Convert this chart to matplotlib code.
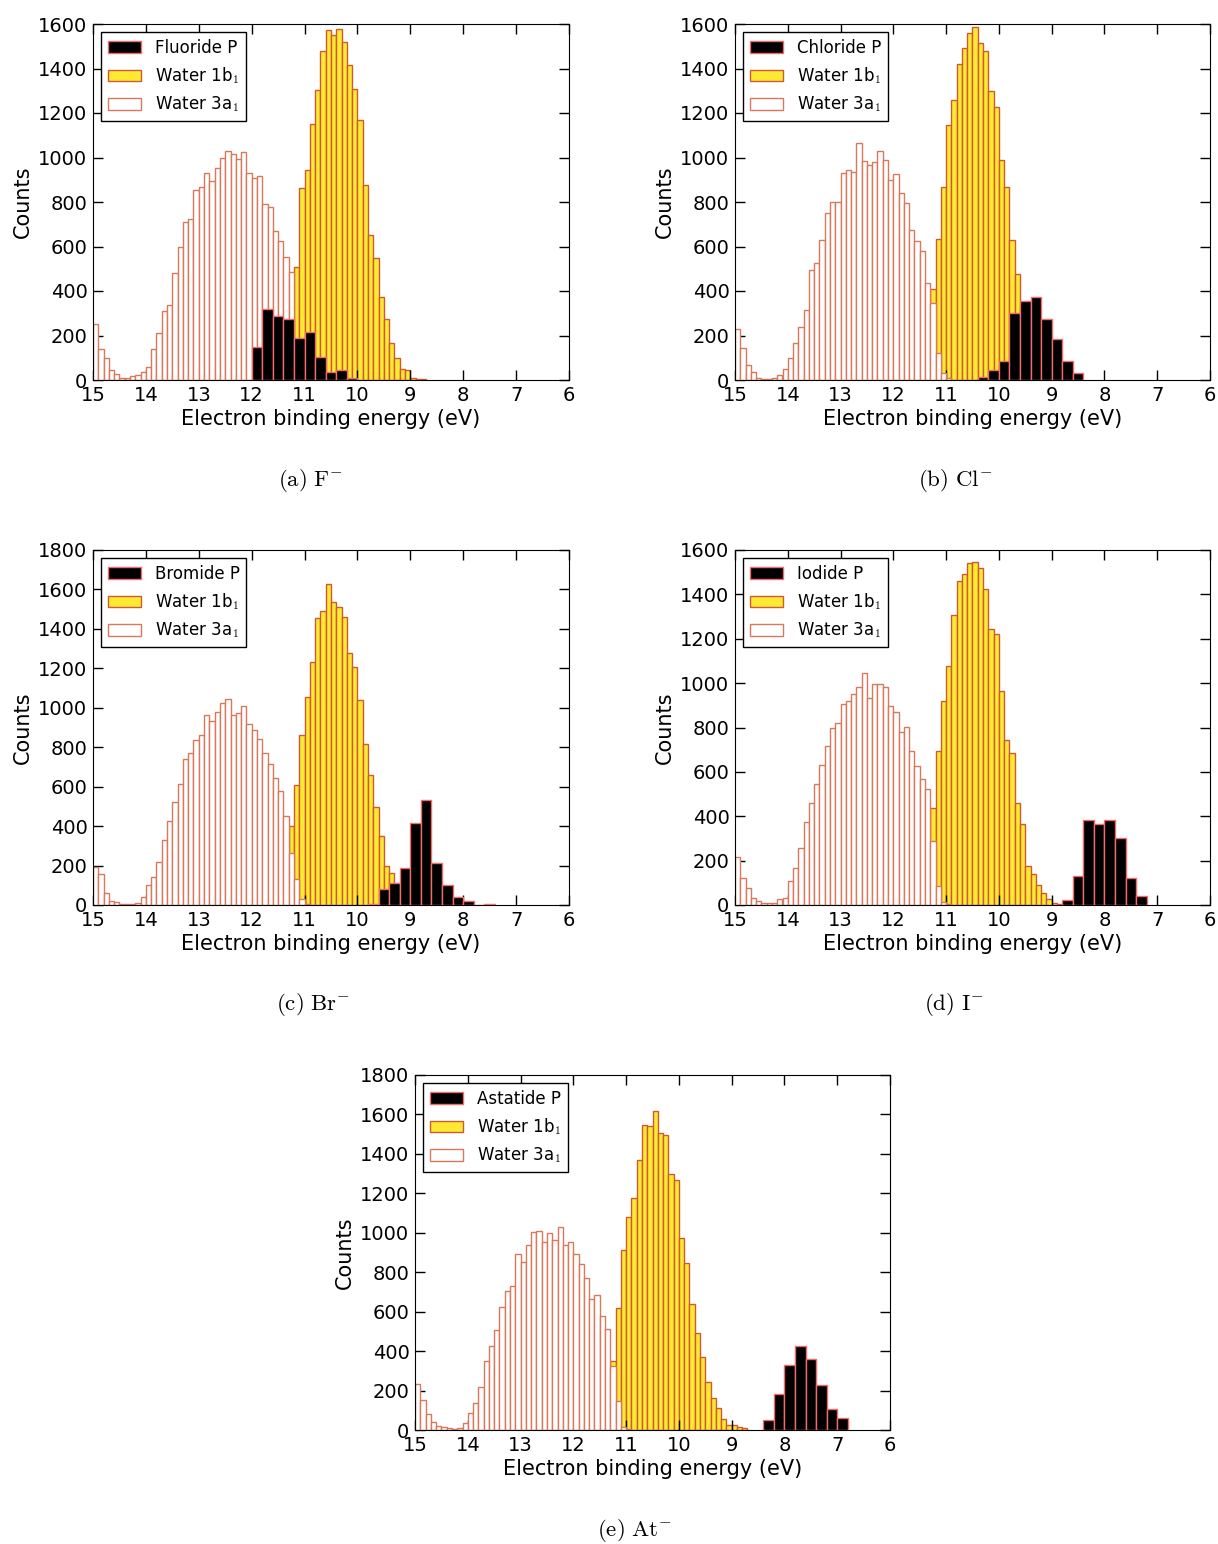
import numpy as np
import matplotlib
matplotlib.use("Agg")
import matplotlib.pyplot as plt
from matplotlib.patches import Patch

plt.rcParams['font.family'] = ['DejaVu Sans']
plt.rcParams['mathtext.fontset'] = 'cm'
plt.rcParams['xtick.direction'] = 'in'
plt.rcParams['ytick.direction'] = 'in'
plt.rcParams['xtick.top'] = True
plt.rcParams['ytick.right'] = True

# bin width of the water histograms and of the anion histogram (eV)
water_bin = 0.1
anion_bin = 0.2

# Water 3a1 counts, bins from 15.0 eV downwards
w3a1_start = 15.0
w3a1_F = [250, 138, 97, 45, 25, 10, 7, 18, 22, 37,
          57, 138, 210, 310, 337, 482, 596, 710, 725, 852,
          866, 932, 894, 953, 999, 1028, 1014, 993, 1023, 932,
          906, 918, 791, 776, 671, 626, 554, 487, 110, 25, 6]
w3a1_Cl = [228, 142, 67, 37, 10, 4, 4, 7, 22, 48,
           100, 168, 240, 315, 494, 524, 629, 752, 801, 801,
           932, 944, 933, 1064, 984, 966, 978, 1031, 989, 899,
           924, 839, 797, 674, 626, 581, 434, 348, 120, 30, 8]
w3a1_Br = [194, 155, 59, 22, 17, 5, 5, 3, 8, 42,
           101, 140, 219, 329, 425, 522, 615, 738, 772, 838,
           860, 964, 934, 981, 1025, 1042, 964, 973, 1011, 919,
           885, 843, 772, 715, 644, 578, 450, 263, 131, 30, 5]
w3a1_I = [217, 120, 75, 30, 19, 7, 7, 10, 25, 33,
          108, 168, 255, 375, 460, 547, 632, 715, 800, 819,
          906, 921, 950, 984, 1046, 933, 996, 996, 984, 896,
          872, 779, 803, 692, 626, 569, 521, 288, 87, 15, 5]
w3a1_At = [234, 152, 81, 42, 20, 13, 10, 7, 12, 37,
           88, 138, 217, 352, 428, 508, 626, 705, 731, 892,
           850, 936, 1003, 1010, 955, 997, 961, 1030, 936, 955,
           892, 840, 769, 663, 684, 579, 512, 327, 146, 15, 5]

# Water 1b1 counts, bins from 11.6 eV downwards
w1b1_start = 11.6
w1b1_F = [20, 60, 150, 330, 509, 863, 944, 1152, 1303, 1480,
          1573, 1552, 1578, 1518, 1416, 1308, 1169, 876, 652, 547,
          375, 273, 168, 97, 48, 45, 7, 6, 3]
w1b1_Cl = [20, 60, 150, 408, 632, 869, 1145, 1258, 1420, 1491,
           1558, 1588, 1513, 1480, 1299, 1228, 989, 866, 629, 475,
           330, 220, 140, 80, 45, 20, 10, 4]
w1b1_Br = [20, 60, 150, 400, 610, 863, 1057, 1234, 1455, 1492,
           1630, 1534, 1512, 1458, 1276, 1208, 1037, 814, 661, 497,
           349, 197, 160, 90, 45, 20, 8, 4]
w1b1_I = [20, 60, 150, 437, 692, 921, 1076, 1308, 1461, 1491,
          1540, 1548, 1518, 1423, 1243, 1221, 966, 742, 686, 460,
          367, 177, 138, 90, 55, 25, 7, 3]
w1b1_At = [20, 60, 150, 348, 618, 912, 1081, 1177, 1370, 1544,
           1542, 1616, 1505, 1495, 1296, 1266, 971, 845, 640, 492,
           369, 244, 163, 113, 57, 24, 24, 17, 8]

# anion P-band counts (0.2 eV bins) and the upper edge of the first bin
anion_F, anion_F_start = [150, 321, 288, 274, 187, 214, 103, 34, 45, 9], 12.0
anion_Cl, anion_Cl_start = [15, 45, 87, 303, 357, 375, 274, 184, 87, 33], 10.4
anion_Br, anion_Br_start = [5, 81, 110, 190, 418, 534, 211, 101, 39, 22, 0, 5], 9.8
anion_I, anion_I_start = [22, 130, 382, 364, 382, 300, 120, 42], 8.8
anion_At, anion_At_start = [49, 185, 328, 428, 359, 227, 109, 59], 8.4

names = ['Fluoride P', 'Chloride P', 'Bromide P', 'Iodide P', 'Astatide P']
captions = [r'$\mathrm{(a)\ F^{-}}$', r'$\mathrm{(b)\ Cl^{-}}$', r'$\mathrm{(c)\ Br^{-}}$',
            r'$\mathrm{(d)\ I^{-}}$', r'$\mathrm{(e)\ At^{-}}$']
ymax = [1600, 1600, 1800, 1600, 1800]

panels = [
    (w3a1_F, w1b1_F, anion_F, anion_F_start),
    (w3a1_Cl, w1b1_Cl, anion_Cl, anion_Cl_start),
    (w3a1_Br, w1b1_Br, anion_Br, anion_Br_start),
    (w3a1_I, w1b1_I, anion_I, anion_I_start),
    (w3a1_At, w1b1_At, anion_At, anion_At_start),
]

# axes boxes in pixels: left, top, right, bottom ; caption centre
W, H = 1218, 1544
boxes = [(93, 24, 569, 380), (735, 24, 1210, 380),
         (93, 550, 569, 905), (735, 550, 1210, 905),
         (415, 1075, 890, 1430)]
cap_pos = [(311, 480), (955, 480), (313, 1004), (954, 1004), (634, 1530)]

yellow_face = '#fbe934'
yellow_edge = '#cf5a30'
white_edge = '#d9785a'
black_edge = '#f26a6a'


def edges(start, n, width):
    return np.round(start - width * np.arange(n), 2)


fig = plt.figure(figsize=(W / 100, H / 100), dpi=100)

for i, (w3, w1, an, an_start) in enumerate(panels):
    l, t, r, b = boxes[i]
    ax = fig.add_axes([l / W, 1 - b / H, (r - l) / W, (b - t) / H])

    ax.bar(edges(w1b1_start, len(w1), water_bin), w1, width=-water_bin, align='edge',
           facecolor=yellow_face, edgecolor=yellow_edge, linewidth=1, zorder=1)
    ax.bar(edges(w3a1_start, len(w3), water_bin), w3, width=-water_bin, align='edge',
           facecolor='white', edgecolor=white_edge, linewidth=1, zorder=2)
    ax.bar(edges(an_start, len(an), anion_bin), an, width=-anion_bin, align='edge',
           facecolor='black', edgecolor=black_edge, linewidth=1, zorder=3)

    ax.set_xlim(15, 6)
    ax.set_ylim(0, ymax[i])
    ax.set_xticks(np.arange(15, 5, -1))
    ax.set_yticks(np.arange(0, ymax[i] + 1, 200))
    ax.tick_params(labelsize=14, length=7, width=1, pad=4)
    ax.set_xlabel('Electron binding energy (eV)', fontsize=15, labelpad=3)
    ax.set_ylabel('Counts', fontsize=15, labelpad=4)

    handles = [Patch(facecolor='black', edgecolor=black_edge, label=names[i]),
               Patch(facecolor=yellow_face, edgecolor=yellow_edge, label='Water 1b$_1$'),
               Patch(facecolor='white', edgecolor=white_edge, label='Water 3a$_1$')]
    leg = ax.legend(handles=handles, loc='upper left', fontsize=12, fancybox=False,
                    framealpha=1, edgecolor='black', handlelength=2.0, handleheight=0.7,
                    labelspacing=0.5, borderpad=0.4)
    leg.get_frame().set_linewidth(1)

    cx, cy = cap_pos[i]
    fig.text(cx / W, 1 - cy / H, captions[i], ha='center', va='center', fontsize=16.5)

fig.savefig('out.png', dpi=100, facecolor='white')
